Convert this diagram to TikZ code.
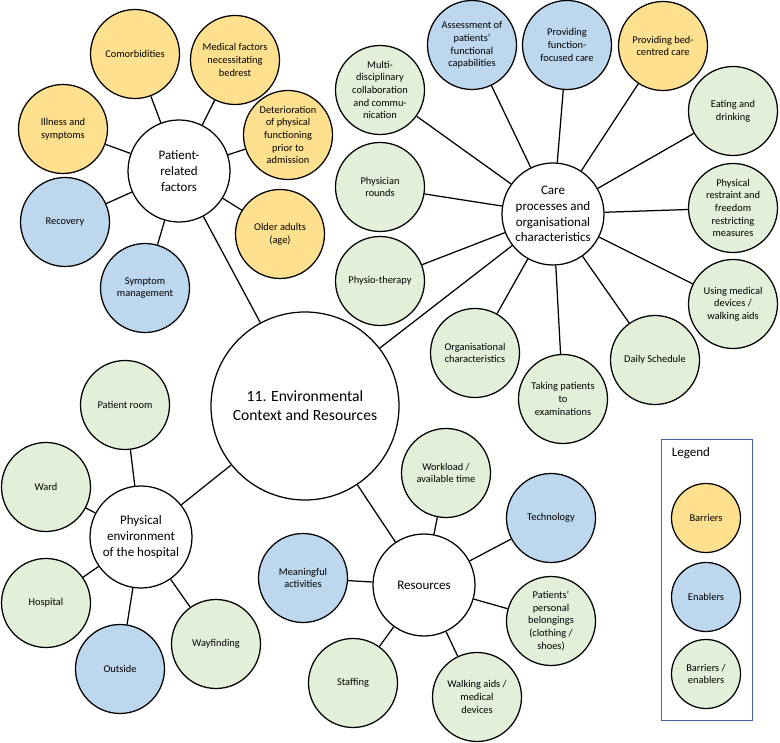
\documentclass[tikz,border=0pt]{standalone}
\usepackage{fontspec}
\setmainfont{Carlito}
\definecolor{barrierfill}{RGB}{255,224,142}
\definecolor{enablerfill}{RGB}{189,215,238}
\definecolor{mixedfill}{RGB}{226,239,217}
\definecolor{legendline}{RGB}{68,100,160}

\begin{document}
\begin{tikzpicture}[x=1pt,y=-1pt,line width=1.25pt,
        bubble/.style={circle,draw,align=center,inner sep=0pt},
        leaf/.style={bubble,minimum size=89pt,font=\fontsize{10.4}{12.7}\selectfont},
        barrier/.style={leaf,fill=barrierfill},
        enabler/.style={leaf,fill=enablerfill},
        mixed/.style={leaf,fill=mixedfill},
        hub/.style={bubble,minimum size=102pt,fill=white,font=\fontsize{13}{15.8}\selectfont}]
  \useasboundingbox (0,0) rectangle (780,743);
  % main circle
  \node[bubble,minimum size=188pt,font=\fontsize{15.6}{19}\selectfont] (env) at (305,406)
    {11. Environmental\\Context and Resources};
  % patient-related factors
  \node[hub] (patient) at (179,171) {Patient-\\related\\factors};
  \node[barrier] (comorb) at (135,54) {Comorbidities};
  \node[barrier] (medical) at (235,60) {Medical factors\\necessitating\\bedrest};
  \node[barrier] (illness) at (63,129) {Illness and\\symptoms};
  \node[barrier] (deterior) at (288,135) {Deterioration\\of physical\\functioning\\prior to\\admission};
  \node[enabler] (recovery) at (65,222) {Recovery};
  \node[barrier] (older) at (280,234) {Older adults\\(age)};
  \node[enabler] (symptom) at (145,288) {Symptom\\management};
  \foreach \n in {comorb,medical,illness,deterior,recovery,older,symptom}
    \draw (patient) -- (\n);
  \draw (patient) -- (env);
  % care processes
  \node[hub] (care) at (553,214) {Care\\processes and\\organisational\\characteristics};
  \node[mixed] (multi) at (380,90) {Multi-\\disciplinary\\collaboration\\and commu-\\nication};
  \node[enabler] (assess) at (472,45) {Assessment of\\patients’\\functional\\capabilities};
  \node[enabler] (funcare) at (567,45) {Providing\\function-\\focused care};
  \node[barrier] (bedcare) at (663,46) {Providing bed-\\centred care};
  \node[mixed] (eating) at (733,111) {Eating and\\drinking};
  \node[mixed] (rounds) at (380,187) {Physician\\rounds};
  \node[mixed] (restraint) at (733,208) {Physical\\restraint and\\freedom\\restricting\\measures};
  \node[mixed] (physio) at (380,281) {Physio-therapy};
  \node[mixed] (devices) at (733,304) {Using medical\\devices /\\walking aids};
  \node[mixed] (organ) at (475,353) {Organisational\\characteristics};
  \node[mixed] (taking) at (563,399) {Taking patients\\to\\examinations};
  \node[mixed] (daily) at (655,360) {Daily Schedule};
  \foreach \n in {multi,assess,funcare,bedcare,eating,rounds,restraint,physio,devices,organ,taking,daily}
    \draw (care) -- (\n);
  \draw (care) -- (env);
  % physical environment
  \node[hub] (physenv) at (141,537) {Physical\\environment\\of the hospital};
  \node[mixed] (room) at (125,405) {Patient room};
  \node[mixed] (ward) at (46,487) {Ward};
  \node[mixed] (hospital) at (46,603) {Hospital};
  \node[enabler] (outside) at (120,669) {Outside};
  \node[mixed] (wayfind) at (216,644) {Wayfinding};
  \foreach \n in {room,ward,hospital,outside,wayfind}
    \draw (physenv) -- (\n);
  \draw (physenv) -- (env);
  % resources
  \node[hub] (resources) at (424,585) {Resources};
  \node[mixed] (workload) at (446,473) {Workload /\\available time};
  \node[enabler] (techn) at (551,518) {Technology};
  \node[mixed] (belong) at (551,621) {Patients’\\personal\\belongings\\(clothing /\\shoes)};
  \node[mixed] (walking) at (477,697) {Walking aids /\\medical\\devices};
  \node[mixed] (staffing) at (353,683) {Staffing};
  \node[enabler] (meaning) at (303,578) {Meaningful\\activities};
  \foreach \n in {workload,techn,belong,walking,staffing,meaning}
    \draw (resources) -- (\n);
  \draw (resources) -- (env);
  % legend
  \draw[legendline,line width=0.9pt] (661,439) rectangle (752,720);
  \node[anchor=west,font=\fontsize{13}{15.8}\selectfont] (legend) at (668,453) {Legend};
  \node[barrier,minimum size=69pt] (lbarrier) at (706,518) {Barriers};
  \node[enabler,minimum size=69pt] (lenabler) at (706,597) {Enablers};
  \node[mixed,minimum size=69pt] (lmixed) at (706,674) {Barriers /\\enablers};
\end{tikzpicture}
\end{document}
